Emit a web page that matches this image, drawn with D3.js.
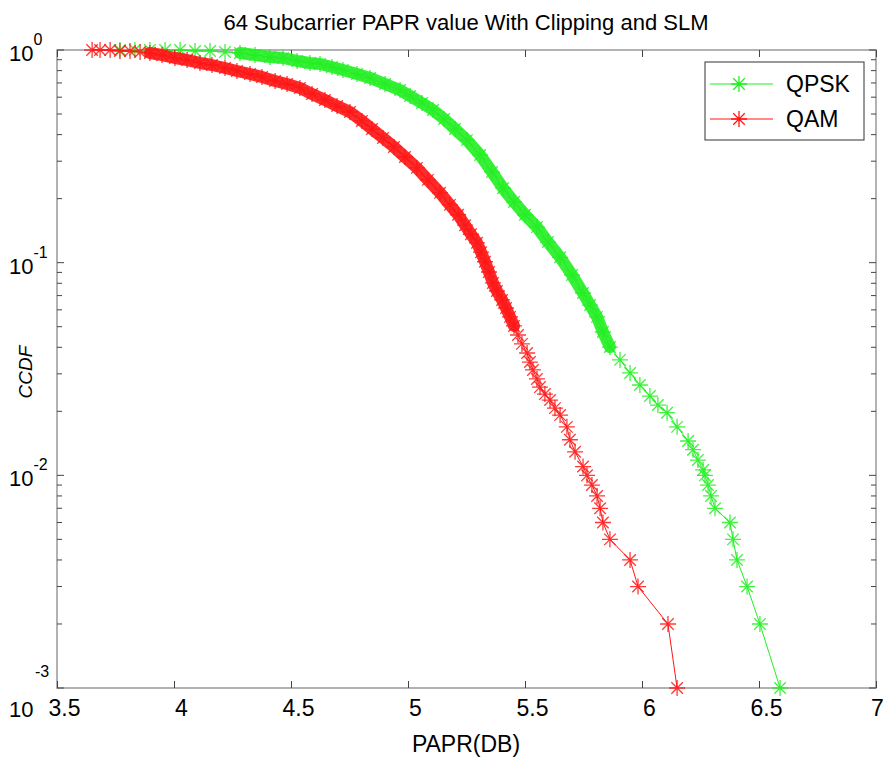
<!DOCTYPE html>
<html>
<head>
<meta charset="utf-8">
<script src="https://cdn.jsdelivr.net/npm/d3@7"></script>
<style>
  body { margin: 0; background: #fff; }
  svg { display: block; font-family: Arial, "Liberation Sans", sans-serif; }
</style>
</head>
<body>
<div id="chartContainer"></div>
<script>

// tick values
var xTicks = [3.5, 4, 4.5, 5, 5.5, 6, 6.5, 7]
var yTickExp = [0, -1, -2, -3]

var seriesNames = ['QPSK', 'QAM']

// QPSK curve
var qpskPapr = [3.769, 3.833, 3.897, 3.962, 4.026, 4.090, 4.154, 4.218, 4.282, 4.346, 4.410, 4.466, 4.526, 4.581, 4.624,
    4.675, 4.722, 4.782, 4.838, 4.902, 4.966, 5.009, 5.060, 5.107, 5.154, 5.201, 5.252, 5.308, 5.359, 5.406, 5.453,
    5.500, 5.551, 5.598, 5.650, 5.701, 5.748, 5.778, 5.808, 5.833, 5.863, 5.906, 5.949, 5.991, 6.034, 6.068, 6.107,
    6.150, 6.197, 6.218, 6.239, 6.261, 6.269, 6.282, 6.295, 6.312, 6.376, 6.389, 6.406, 6.449, 6.504, 6.590]
var qpskCcdf = [1, 1, 1, 1, 1, 0.989, 0.989, 0.979, 0.968, 0.947, 0.927, 0.917, 0.888, 0.869, 0.859,
    0.832, 0.805, 0.771, 0.739, 0.692, 0.648, 0.608, 0.563, 0.522, 0.474, 0.425, 0.377, 0.321, 0.267, 0.224, 0.193,
    0.168, 0.147, 0.125, 0.106, 0.0875, 0.0720, 0.0632, 0.0556, 0.0472, 0.0401, 0.0349, 0.0303, 0.0266, 0.0236, 0.0214, 0.0197,
    0.0169, 0.0145, 0.0132, 0.0118, 0.0106, 0.010, 0.009, 0.008, 0.007, 0.006, 0.005, 0.004, 0.003, 0.002, 0.001]

// QAM curve
var qamPapr = [3.650, 3.684, 3.727, 3.769, 3.812, 3.855, 3.897, 3.949, 4.004, 4.056, 4.111, 4.162, 4.218, 4.269, 4.325,
    4.376, 4.432, 4.483, 4.538, 4.590, 4.645, 4.697, 4.752, 4.803, 4.846, 4.893, 4.940, 4.987, 5.038, 5.085, 5.137,
    5.179, 5.214, 5.244, 5.269, 5.295, 5.312, 5.329, 5.346, 5.363, 5.380, 5.402, 5.419, 5.436, 5.453, 5.470, 5.487,
    5.509, 5.521, 5.534, 5.551, 5.564, 5.585, 5.607, 5.628, 5.650, 5.679, 5.692, 5.714, 5.748, 5.765, 5.786, 5.808,
    5.821, 5.833, 5.863, 5.949, 5.983, 6.111, 6.150]
var qamCcdf = [1, 1, 1, 0.989, 0.989, 0.979, 0.968, 0.947, 0.917, 0.897, 0.869, 0.850, 0.823, 0.797, 0.771,
    0.747, 0.715, 0.692, 0.663, 0.621, 0.582, 0.545, 0.511, 0.464, 0.425, 0.386, 0.350, 0.314, 0.279, 0.245, 0.213,
    0.187, 0.168, 0.150, 0.136, 0.124, 0.112, 0.101, 0.0904, 0.0803, 0.0736, 0.0668, 0.0612, 0.0556, 0.0504, 0.0457, 0.0415,
    0.0376, 0.0341, 0.0313, 0.0284, 0.0260, 0.0241, 0.0226, 0.0207, 0.0192, 0.0169, 0.0147, 0.0129, 0.0110, 0.010, 0.009, 0.008,
    0.007, 0.006, 0.005, 0.004, 0.003, 0.002, 0.001]

// range of CCDF where the markers overlap into a solid band
var bandRange = [[0.036, 0.975], [0.05, 0.975]]

var seriesColors = ['#22ee22', '#ff1515']

var width = 886, height = 758
var margin = { left: 57, right: 10, top: 50, bottom: 70 }

var svg = d3.select('#chartContainer').append('svg')
    .attr('width', width)
    .attr('height', height)

var xScale = d3.scaleLinear()
    .domain([3.5, 7])
    .range([margin.left, width - margin.right])

var yScale = d3.scaleLog()
    .domain([1e-3, 1])
    .range([height - margin.bottom, margin.top])

var x0 = xScale.range()[0], x1 = xScale.range()[1]
var y0 = yScale.range()[0], y1 = yScale.range()[1]

// title and axis labels
svg.append('text')
    .attr('x', 466).attr('y', 30)
    .attr('text-anchor', 'middle')
    .style('font-size', '22px')
    .text('64 Subcarrier PAPR value With Clipping and SLM')

svg.append('text')
    .attr('x', 466).attr('y', 752)
    .attr('text-anchor', 'middle')
    .style('font-size', '23px')
    .text('PAPR(DB)')

svg.append('text')
    .attr('transform', 'translate(32,372) rotate(-90)')
    .attr('text-anchor', 'middle')
    .style('font-size', '19px')
    .style('font-style', 'italic')
    .text('CCDF')

// plot box
svg.append('rect')
    .attr('x', x0).attr('y', y1)
    .attr('width', x1 - x0).attr('height', y0 - y1)
    .attr('fill', 'none')
    .attr('stroke', '#999')
    .attr('stroke-width', 1.5)

// x ticks, inward on bottom and top
var xAxisB = svg.append('g')
    .attr('class', 'xAxis')
    .attr('transform', 'translate(0,' + y0 + ')')
    .call(d3.axisBottom(xScale).tickValues(xTicks).tickSize(-7).tickPadding(12).tickFormat(d3.format('')))
xAxisB.select('.domain').remove()
xAxisB.selectAll('line').attr('stroke', '#444')
xAxisB.selectAll('text')
    .attr('dx', function(d, i) { return i === xTicks.length - 1 ? 1 : 7 })
    .style('font-size', '23px')
    .style('font-family', 'Arial, "Liberation Sans", sans-serif')
    .attr('fill', '#000')

var xAxisT = svg.append('g')
    .attr('transform', 'translate(0,' + y1 + ')')
    .call(d3.axisTop(xScale).tickValues(xTicks).tickSize(-7).tickFormat(''))
xAxisT.select('.domain').remove()
xAxisT.selectAll('line').attr('stroke', '#444')

// y ticks (decades + minor), inward on left and right
var minorVals = []
yTickExp.forEach(function(e) {
    if (e === 0) return
    for (var m = 2; m <= 9; m++) minorVals.push(m * Math.pow(10, e))
})
var majorVals = yTickExp.map(function(e) { return Math.pow(10, e) })

var tickG = svg.append('g').attr('stroke', '#444').attr('stroke-width', 1)
;[[x0, 1], [x1, -1]].forEach(function(side) {
    tickG.selectAll(null).data(majorVals).enter().append('line')
        .attr('x1', side[0]).attr('x2', side[0] + side[1] * 7)
        .attr('y1', function(d) { return yScale(d) }).attr('y2', function(d) { return yScale(d) })
    tickG.selectAll(null).data(minorVals).enter().append('line')
        .attr('x1', side[0]).attr('x2', side[0] + side[1] * 5)
        .attr('y1', function(d) { return yScale(d) }).attr('y2', function(d) { return yScale(d) })
})

// y tick labels 10^e
var yLab = svg.append('g').style('font-size', '22px')
yTickExp.forEach(function(e) {
    var yy = yScale(Math.pow(10, e))
    if (e === -3) {
        // the bottom label is split in the reference
        yLab.append('text').attr('x', 35).attr('y', yy - 11).style('font-size', '16px').text('-3')
        yLab.append('text').attr('x', 9).attr('y', yy + 29).text('10')
        return
    }
    var t = yLab.append('text').attr('x', 9).attr('y', yy + 11)
    t.append('tspan').text('10')
    t.append('tspan').attr('dy', -16).style('font-size', '16px').text(String(e))
})

// curves
var lineGen = d3.line()
    .x(function(d) { return xScale(d[0]) })
    .y(function(d) { return yScale(d[1]) })

function starPath(r) {
    var d = r * 0.72
    return 'M' + (-r) + ',0L' + r + ',0M0,' + (-r) + 'L0,' + r +
        'M' + (-d) + ',' + (-d) + 'L' + d + ',' + d + 'M' + (-d) + ',' + d + 'L' + d + ',' + (-d)
}

var series = [d3.zip(qpskPapr, qpskCcdf), d3.zip(qamPapr, qamCcdf)]

series.forEach(function(data, i) {
    var g = svg.append('g').attr('class', 'series' + i)
    // dense part: overlapping markers read as a solid band
    g.append('path')
        .datum(data.filter(function(d) { return d[1] >= bandRange[i][0] && d[1] <= bandRange[i][1] }))
        .attr('d', lineGen)
        .attr('fill', 'none')
        .attr('stroke', seriesColors[i])
        .attr('stroke-width', 12)
        .attr('stroke-linecap', 'round')
        .attr('stroke-linejoin', 'round')
        .attr('opacity', 0.9)
    g.append('path')
        .datum(data)
        .attr('d', lineGen)
        .attr('fill', 'none')
        .attr('stroke', seriesColors[i])
        .attr('stroke-width', 1)
    g.selectAll('.mk')
        .data(data)
        .enter().append('path')
        .attr('class', 'mk')
        .attr('transform', function(d) { return 'translate(' + xScale(d[0]) + ',' + yScale(d[1]) + ')' })
        .attr('d', starPath(8))
        .attr('fill', 'none')
        .attr('stroke', seriesColors[i])
        .attr('stroke-width', 1.3)
        .attr('opacity', 0.85)
})

// legend
var legend = svg.append('g').attr('class', 'legend')
legend.append('rect')
    .attr('x', 705).attr('y', 62)
    .attr('width', 159).attr('height', 78)
    .attr('fill', '#fff')
    .attr('stroke', '#333')
    .attr('stroke-width', 1)

seriesNames.forEach(function(name, i) {
    var ly = 84 + i * 35
    legend.append('line')
        .attr('x1', 710).attr('x2', 773)
        .attr('y1', ly).attr('y2', ly)
        .attr('stroke', seriesColors[i])
    legend.append('path')
        .attr('transform', 'translate(739,' + ly + ')')
        .attr('d', starPath(8))
        .attr('fill', 'none')
        .attr('stroke', seriesColors[i])
        .attr('stroke-width', 1.3)
    legend.append('text')
        .attr('x', 786).attr('y', ly + 8)
        .style('font-size', '23px')
        .text(name)
})

</script>
</body>
</html>
